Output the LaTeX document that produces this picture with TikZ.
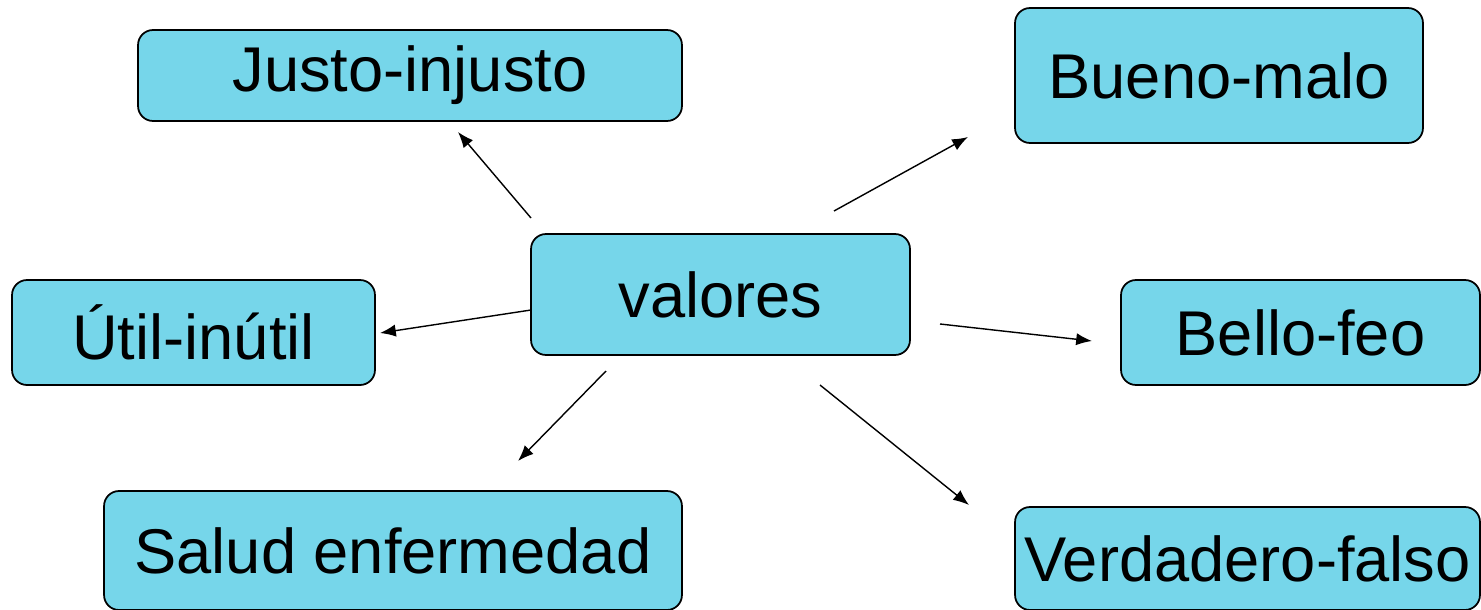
\documentclass[tikz,border=0pt]{standalone}
\usepackage{fontspec}
\setmainfont{Liberation Sans}
\usetikzlibrary{arrows.meta}
\definecolor{boxcyan}{RGB}{118,214,234}
\begin{document}
\begin{tikzpicture}
[x=0.02cm,y=-0.02cm,
  nodeDecorate/.style={shape=rectangle,rounded corners=0.3cm,draw,fill=boxcyan,
    line width=1pt,inner sep=0pt,font=\fontsize{36}{43}\selectfont},%
  lineDecorate/.style={-{Latex[length=9pt,width=7pt]},line width=0.8pt}]
\useasboundingbox (0,0) rectangle (1481,609);
%% nodes or boxes
\foreach \nodename/\x/\y/\w/\h/\txt in {justo/410/75.5/10.88/1.82/Justo-injusto,
  bueno/1219/75.5/8.16/2.70/Bueno-malo,
  valores/720.5/294.5/7.58/2.42/valores,
  util/193.5/332.5/7.26/2.10/Útil-inútil,
  bello/1300.5/332.5/7.18/2.10/Bello-feo,
  salud/393/550.5/11.56/2.38/Salud enfermedad,
  verdadero/1247.5/558.5/9.30/2.06/Verdadero-falso}
{
  \node (\nodename) at (\x,\y) [nodeDecorate,minimum width=\w cm,minimum height=\h cm] {\txt};
}
%% arrow ends
\foreach \nodename/\x/\y in {a1/531/218, b1/458/132, a2/834/211, b2/968/137,
  a3/531/310, b3/380/333, a4/940/324, b4/1092/341,
  a5/606/371, b5/518/461, a6/820/385, b6/969/505}
{
  \coordinate (\nodename) at (\x,\y);
}
%% edges or arrows
\path
\foreach \startnode/\endnode in {a1/b1, a2/b2, a3/b3, a4/b4, a5/b5, a6/b6}
{
  (\startnode) edge[lineDecorate] (\endnode)
};
\end{tikzpicture}
\end{document}
